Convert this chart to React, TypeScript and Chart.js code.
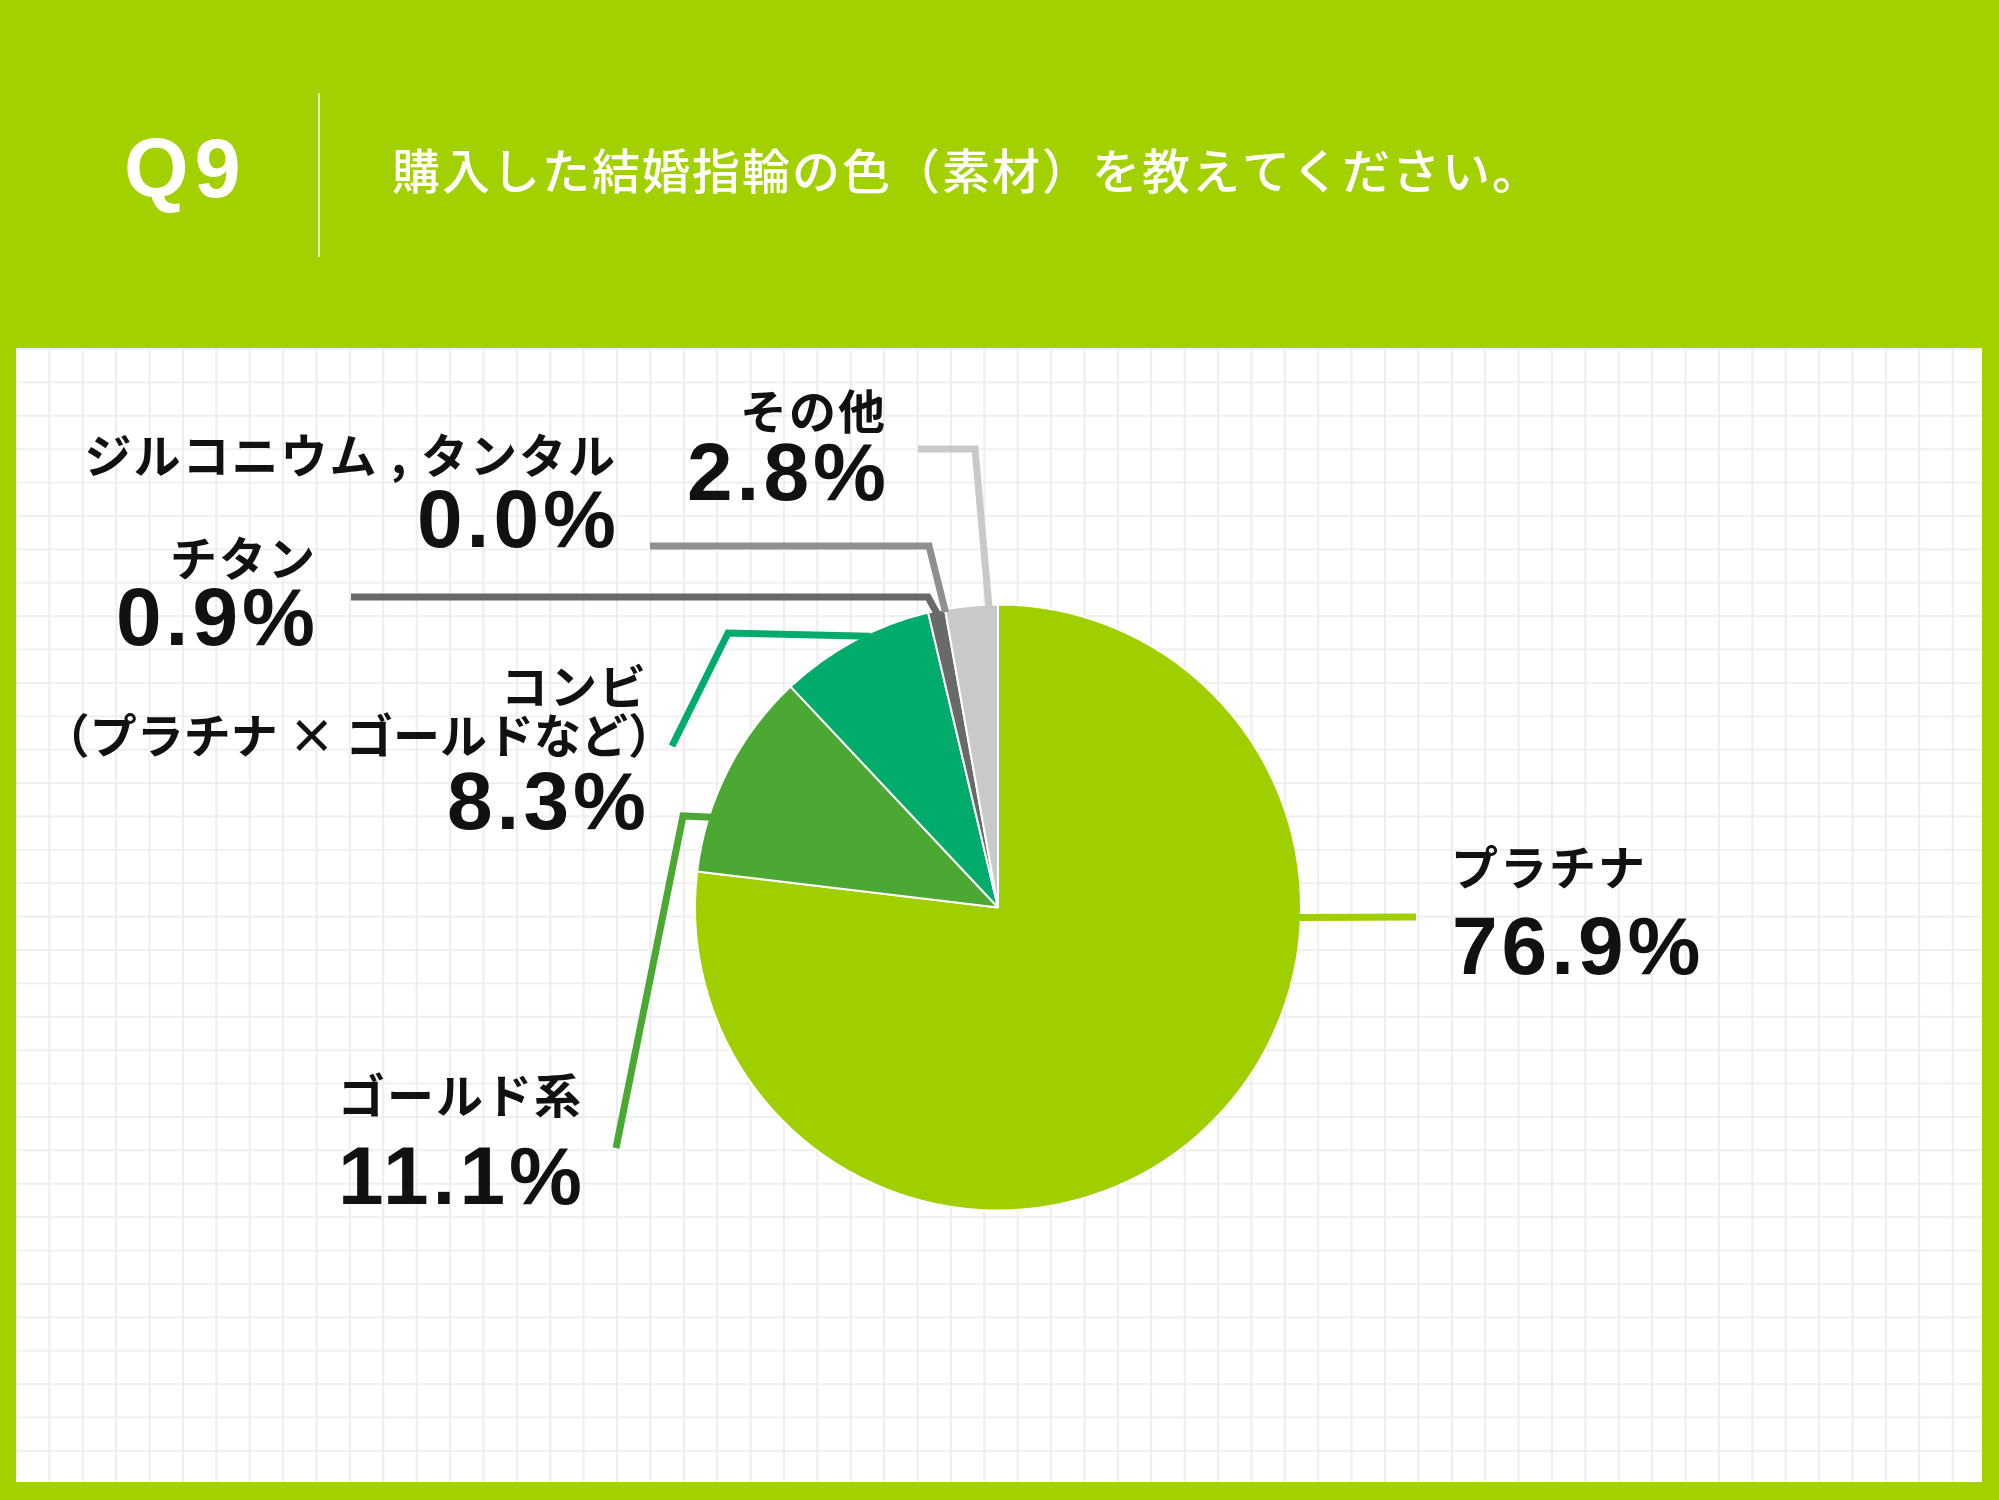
import { useEffect, useRef } from "react";
import { Chart, registerables } from "chart.js";

Chart.register(...registerables);

// survey answers (%), clockwise from 12 o'clock
const categories = ["プラチナ", "ゴールド系", "コンビ（プラチナ × ゴールドなど）", "チタン", "ジルコニウム , タンタル", "その他"];
const shares = [76.9, 11.1, 8.3, 0.9, 0.0, 2.8];
const labelLines = [["プラチナ"], ["ゴールド系"], ["コンビ", "（プラチナ × ゴールドなど）"], ["チタン"], ["ジルコニウム , タンタル"], ["その他"]];

const questionNo = "Q9";
const questionText = "購入した結婚指輪の色（素材）を教えてください。";

const sliceColors = ["#A0CF00", "#4BA832", "#00AB6B", "#696969", "#8F8F8F", "#C9C9C9"];
const leaderColors = ["#A0CF00", "#4BA832", "#00AB6B", "#696969", "#8F8F8F", "#C9C9C9"];

// callout layout (page px): where the leader leaves the slice, its elbows, and the text block
const callouts = [
  { frac: 0.332, elbows: [[1416, 917]], align: "left", x: 1455, lineTops: [845], valueTop: 917 },
  { frac: 0.267, elbows: [[683, 816], [616, 1148]], align: "right", x: 580, lineTops: [1072], valueTop: 1147 },
  { frac: 0.6, elbows: [[728, 633], [672, 746]], align: "right", x: 644, lineTops: [663, 712], valueTop: 772 },
  { frac: 0.5, elbows: [[928, 597], [351, 597]], align: "right", x: 313, lineTops: [536], valueTop: 588 },
  { frac: 0, elbows: [[929, 546], [650, 546]], align: "right", x: 614, lineTops: [433], valueTop: 490 },
  { frac: 0.83, elbows: [[975, 449], [918, 449]], align: "right", x: 884, lineTops: [389], valueTop: 443 },
];

const JP = '"Noto Sans CJK JP", "Noto Sans CJK SC", sans-serif';
const NUM = '"Liberation Sans", Arial, sans-serif';

function drawInk(ctx: CanvasRenderingContext2D, text: string, align: string, x: number, top: number) {
  const m = ctx.measureText(text);
  const px = align === "left" ? x + m.actualBoundingBoxLeft : x - m.actualBoundingBoxRight;
  ctx.fillText(text, px, top + m.actualBoundingBoxAscent);
}

const calloutPlugin = {
  id: "callouts",
  afterDatasetsDraw(chart: any) {
    const ctx: CanvasRenderingContext2D = chart.ctx;
    const c2 = ctx as any;
    const meta = chart.getDatasetMeta(0);
    ctx.save();
    ctx.textAlign = "left";
    ctx.textBaseline = "alphabetic";

    // header
    ctx.fillStyle = "#ffffff";
    ctx.font = `bold 83px ${NUM}`;
    c2.letterSpacing = "6px";
    drawInk(ctx, questionNo, "left", 127, 138);
    ctx.font = `500 48px ${JP}`;
    c2.letterSpacing = "2px";
    drawInk(ctx, questionText, "left", 393, 148);
    c2.letterSpacing = "0px";
    ctx.strokeStyle = "rgba(255,255,255,0.75)";
    ctx.lineWidth = 2;
    ctx.beginPath();
    ctx.moveTo(319, 93);
    ctx.lineTo(319, 257);
    ctx.stroke();

    meta.data.forEach((arc: any, i: number) => {
      const c = callouts[i];
      const { x, y, startAngle, endAngle, outerRadius } = arc.getProps(
        ["x", "y", "startAngle", "endAngle", "outerRadius"],
        true
      );
      const a = startAngle + c.frac * (endAngle - startAngle);
      ctx.strokeStyle = leaderColors[i];
      ctx.lineWidth = 7;
      ctx.lineJoin = "miter";
      ctx.lineCap = "butt";
      ctx.beginPath();
      ctx.moveTo(x + Math.cos(a) * (outerRadius - 3), y + Math.sin(a) * (outerRadius - 3));
      c.elbows.forEach((p) => ctx.lineTo(p[0], p[1]));
      ctx.stroke();

      ctx.fillStyle = "#111111";
      ctx.font = `bold 47px ${JP}`;
      labelLines[i].forEach((t, k) => {
        c2.letterSpacing = t.length > 10 && t.includes("×") ? "0px" : "2px";
        drawInk(ctx, t, c.align, c.x, c.lineTops[k]);
      });
      ctx.font = `bold 82px ${NUM}`;
      c2.letterSpacing = "4px";
      drawInk(ctx, `${shares[i].toFixed(1)}%`, c.align, c.x, c.valueTop);
      c2.letterSpacing = "0px";
    });
    ctx.restore();
  },
};

export default function App() {
  const chartRef = useRef<HTMLCanvasElement>(null);
  const chartInstance = useRef<Chart | null>(null);

  useEffect(() => {
    if (chartRef.current) {
      const ctx = chartRef.current.getContext("2d");
      if (ctx) {
        if (chartInstance.current) {
          chartInstance.current.destroy();
        }
        chartInstance.current = new Chart(ctx, {
          type: "pie",
          data: {
            labels: categories,
            datasets: [
              {
                data: shares,
                backgroundColor: sliceColors,
                borderColor: "#ffffff",
                borderWidth: 2,
              },
            ],
          },
          options: {
            animation: false,
            responsive: true,
            maintainAspectRatio: false,
            events: [],
            radius: 303,
            layout: { padding: { left: 694, right: 697, top: 604, bottom: 289 } },
            plugins: {
              legend: { display: false },
              tooltip: { enabled: false },
            },
          },
          plugins: [calloutPlugin],
        });
      }
    }
    return () => {
      if (chartInstance.current) {
        chartInstance.current.destroy();
        chartInstance.current = null;
      }
    };
  }, []);

  return (
    <div style={{ position: "absolute", left: 0, top: 0, width: 1999, height: 1500, background: "#A3D100", overflow: "hidden" }}>
      <div
        style={{
          position: "absolute",
          left: 16,
          top: 348,
          width: 1966,
          height: 1134,
          backgroundColor: "#ffffff",
          backgroundImage:
            "linear-gradient(to right, #EDEDED 0, #EDEDED 1.5px, transparent 1.5px), linear-gradient(to bottom, #EFEFEF 0, #EFEFEF 1.5px, transparent 1.5px)",
          backgroundSize: "33.4px 33.4px",
          backgroundPosition: "-1px 0",
        }}
      />
      <div style={{ position: "absolute", left: 0, top: 0, width: 1999, height: 1500 }}>
        <canvas ref={chartRef}></canvas>
      </div>
    </div>
  );
}
